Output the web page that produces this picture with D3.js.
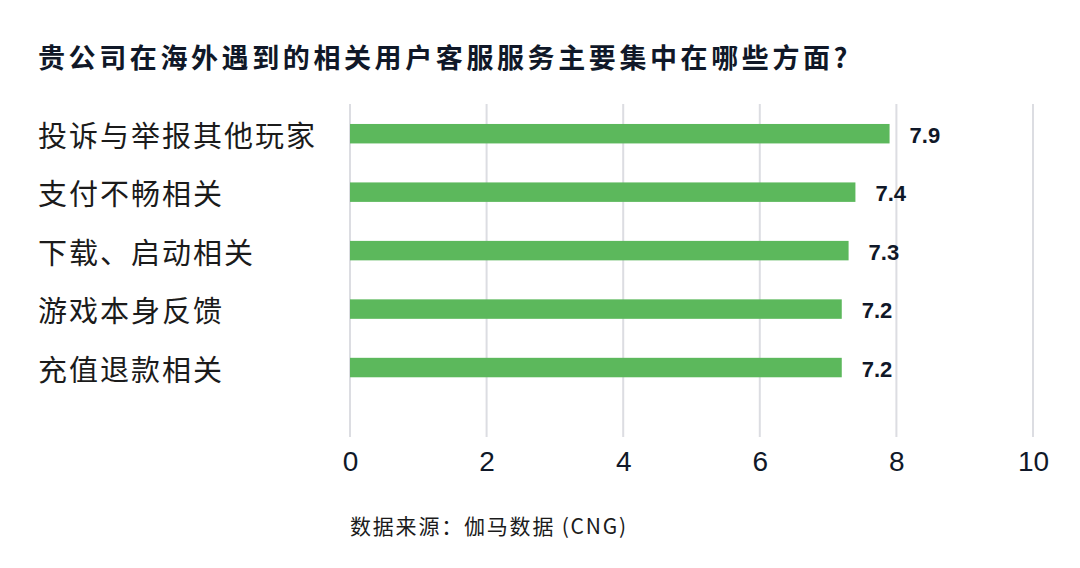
<!DOCTYPE html>
<html>
<head>
<meta charset="utf-8">
<script src="https://cdn.jsdelivr.net/npm/d3@7"></script>
<style>
  html, body { margin: 0; padding: 0; background: #ffffff; }
  svg { display: block; }
</style>
</head>
<body>
<svg width="1080" height="568"></svg>
<script>
// chart data
var categories = ["投诉与举报其他玩家", "支付不畅相关", "下载、启动相关", "游戏本身反馈", "充值退款相关"];
var values = [7.9, 7.4, 7.3, 7.2, 7.2];
var xTicks = [0, 2, 4, 6, 8, 10];
var title = "贵公司在海外遇到的相关用户客服服务主要集中在哪些方面?";
var source = "数据来源：伽马数据 (CNG)";

var svg = d3.select("svg");
var cjk = "'Noto Sans CJK SC', 'Noto Sans', sans-serif";
var num = "'Liberation Sans', Arial, 'Noto Sans CJK SC', sans-serif";

var x = d3.scaleLinear()
    .domain([0, 10])
    .range([350, 1033]);

var y = d3.scaleBand()
    .domain(categories)
    .range([104.5, 396.75])
    .paddingInner(0.667)
    .paddingOuter(0.333);

// title
svg.append("text")
    .attr("x", 38)
    .attr("y", 56)
    .attr("dominant-baseline", "central")
    .attr("font-family", cjk)
    .attr("font-weight", "bold")
    .attr("font-size", 27)
    .attr("letter-spacing", 3.6)
    .attr("fill", "#101828")
    .text(title);

// vertical gridlines
svg.append("g").selectAll("line")
    .data(xTicks)
    .enter()
    .append("line")
    .attr("x1", d => x(d))
    .attr("x2", d => x(d))
    .attr("y1", 104)
    .attr("y2", 437)
    .attr("stroke", "#dcdde2")
    .attr("stroke-width", 2);

// x axis labels
var xAxis = svg.append("g")
    .attr("transform", "translate(0,437)")
    .call(d3.axisBottom(x).tickValues(xTicks).tickSize(0).tickPadding(14));
xAxis.select(".domain").remove();
xAxis.selectAll("text")
    .attr("font-family", num)
    .attr("font-size", 28)
    .attr("fill", "#101828");

// bars
svg.append("g").selectAll("rect")
    .data(values)
    .enter()
    .append("rect")
    .attr("x", x(0))
    .attr("y", (d, i) => y(categories[i]))
    .attr("width", d => x(d) - x(0))
    .attr("height", y.bandwidth())
    .attr("fill", "#5cb85c");

// category labels
svg.append("g").selectAll("text")
    .data(categories)
    .enter()
    .append("text")
    .attr("x", 38)
    .attr("y", d => y(d) + y.bandwidth() / 2)
    .attr("dominant-baseline", "central")
    .attr("font-family", cjk)
    .attr("font-size", 29)
    .attr("letter-spacing", 2)
    .attr("fill", "#1b1b1b")
    .text(d => d);

// value labels
svg.append("g").selectAll("text")
    .data(values)
    .enter()
    .append("text")
    .attr("x", d => x(d) + 20)
    .attr("y", (d, i) => y(categories[i]) + y.bandwidth() / 2 + 9)
    .attr("font-family", num)
    .attr("font-weight", "bold")
    .attr("font-size", 22)
    .attr("fill", "#101828")
    .text(d => d.toFixed(1));

// source note
svg.append("text")
    .attr("x", 350)
    .attr("y", 525)
    .attr("dominant-baseline", "central")
    .attr("font-family", cjk)
    .attr("font-size", 21)
    .attr("letter-spacing", 1.8)
    .attr("fill", "#1b1b1b")
    .text(source);
</script>
</body>
</html>
